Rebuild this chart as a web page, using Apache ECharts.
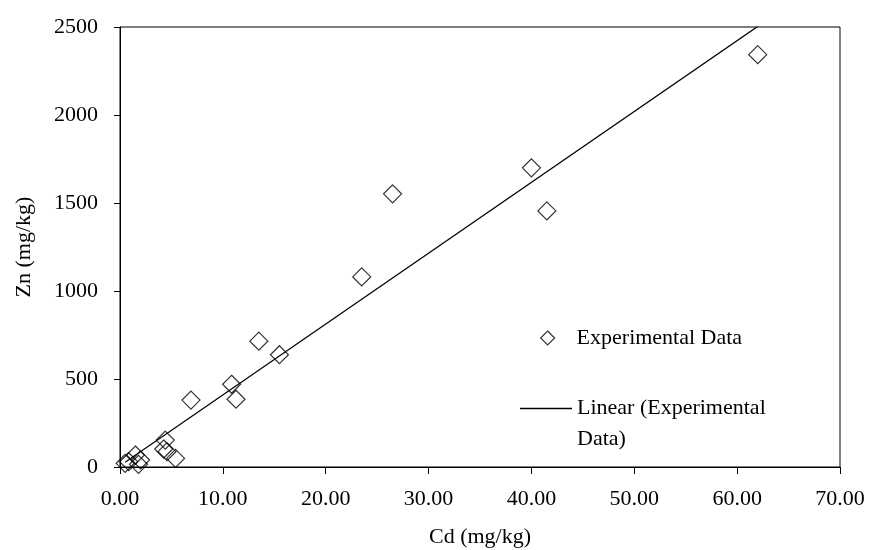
<!DOCTYPE html>
<html>
<head>
<meta charset="utf-8">
<script src="https://cdn.jsdelivr.net/npm/echarts@6/dist/echarts.min.js"></script>
<style>
  html, body { margin: 0; padding: 0; background: #fff; }
  #chart { width: 872px; height: 550px; }
</style>
</head>
<body>
<div id="chart"></div>
<script>
// Cd and Zn concentrations of the samples (mg/kg)
const cdValues = [0.5, 0.85, 1.5, 1.8, 2.0, 4.25, 4.4, 4.57, 5.4, 6.9, 10.85, 11.28, 13.5, 15.5, 23.5, 26.5, 40.0, 41.5, 62.0];
const znValues = [21, 30, 68, 15, 40, 102, 153, 87, 49, 380, 470, 385, 715, 638, 1080, 1552, 1700, 1455, 2343];

const xTicks = { min: 0, max: 70, interval: 10 };
const yTicks = { min: 0, max: 2500, interval: 500 };

const seriesName = 'Experimental Data';
const trendName = 'Linear (Experimental Data)';

// least-squares fit for the trend line
function linearFit(xs, ys) {
  const n = xs.length;
  let sx = 0, sy = 0, sxx = 0, sxy = 0;
  for (let i = 0; i < n; i++) {
    sx += xs[i]; sy += ys[i];
    sxx += xs[i] * xs[i]; sxy += xs[i] * ys[i];
  }
  const slope = (n * sxy - sx * sy) / (n * sxx - sx * sx);
  const intercept = (sy - slope * sx) / n;
  return { slope, intercept };
}

const fit = linearFit(cdValues, znValues);
const xLo = Math.min(...cdValues);
const xHi = Math.max(...cdValues);
const trendData = [xLo, xHi].map(x => [x, fit.intercept + fit.slope * x]);
const points = cdValues.map((c, i) => [c, znValues[i]]);

const font = '"Liberation Serif", "Times New Roman", serif';
const txt = { color: '#000', fontFamily: font, fontSize: 22 };

const chart = echarts.init(document.getElementById('chart'));
chart.setOption({
  animation: false,
  backgroundColor: '#fff',
  grid: {
    left: 120, right: 32, top: 27, bottom: 83,
    outerBoundsMode: 'none',
    show: true, borderColor: '#000', borderWidth: 1, backgroundColor: 'transparent'
  },
  legend: [
    {
      data: [{ name: seriesName, icon: 'diamond' }],
      left: 535, top: 322,
      itemWidth: 14, itemHeight: 14,
      itemStyle: { color: '#fff', borderColor: '#000', borderWidth: 1.2 },
      textStyle: Object.assign({}, txt, { padding: [0, 0, 0, 17] }),
      selectedMode: false
    },
    {
      // leading blank line keeps the line icon level with the first text line
      data: [{ name: trendName, icon: 'rect' }],
      left: 515, top: 357,
      itemWidth: 52, itemHeight: 1.3,
      itemStyle: { color: '#000', borderWidth: 0 },
      formatter: () => '\nLinear (Experimental\nData)',
      textStyle: Object.assign({}, txt, { lineHeight: 31 }),
      selectedMode: false
    }
  ],
  xAxis: {
    type: 'value',
    min: xTicks.min, max: xTicks.max, interval: xTicks.interval,
    name: 'Cd (mg/kg)', nameLocation: 'middle', nameGap: 59,
    nameTextStyle: txt,
    axisLine: { lineStyle: { color: '#000', width: 1 } },
    axisTick: { show: true, length: 7, lineStyle: { color: '#000' } },
    axisLabel: Object.assign({}, txt, { margin: 21, formatter: v => v.toFixed(2) }),
    splitLine: { show: false }
  },
  yAxis: {
    type: 'value',
    min: yTicks.min, max: yTicks.max, interval: yTicks.interval,
    name: 'Zn (mg/kg)', nameLocation: 'middle', nameGap: 85,
    nameTextStyle: txt,
    axisLine: { show: true, lineStyle: { color: '#000', width: 1 } },
    axisTick: { show: true, length: 6, lineStyle: { color: '#000' } },
    axisLabel: Object.assign({}, txt, { margin: 22, formatter: v => String(v) }),
    splitLine: { show: false }
  },
  series: [
    {
      name: seriesName,
      type: 'scatter',
      data: points,
      symbol: 'diamond',
      symbolSize: 18,
      itemStyle: { color: 'rgba(255,255,255,0)', borderColor: '#000', borderWidth: 1.2 },
      emphasis: { disabled: true },
      z: 3
    },
    {
      name: trendName,
      type: 'line',
      data: trendData,
      symbol: 'none',
      lineStyle: { color: '#000', width: 1.2 },
      emphasis: { disabled: true },
      clip: true,
      z: 2
    }
  ]
});
</script>
</body>
</html>
